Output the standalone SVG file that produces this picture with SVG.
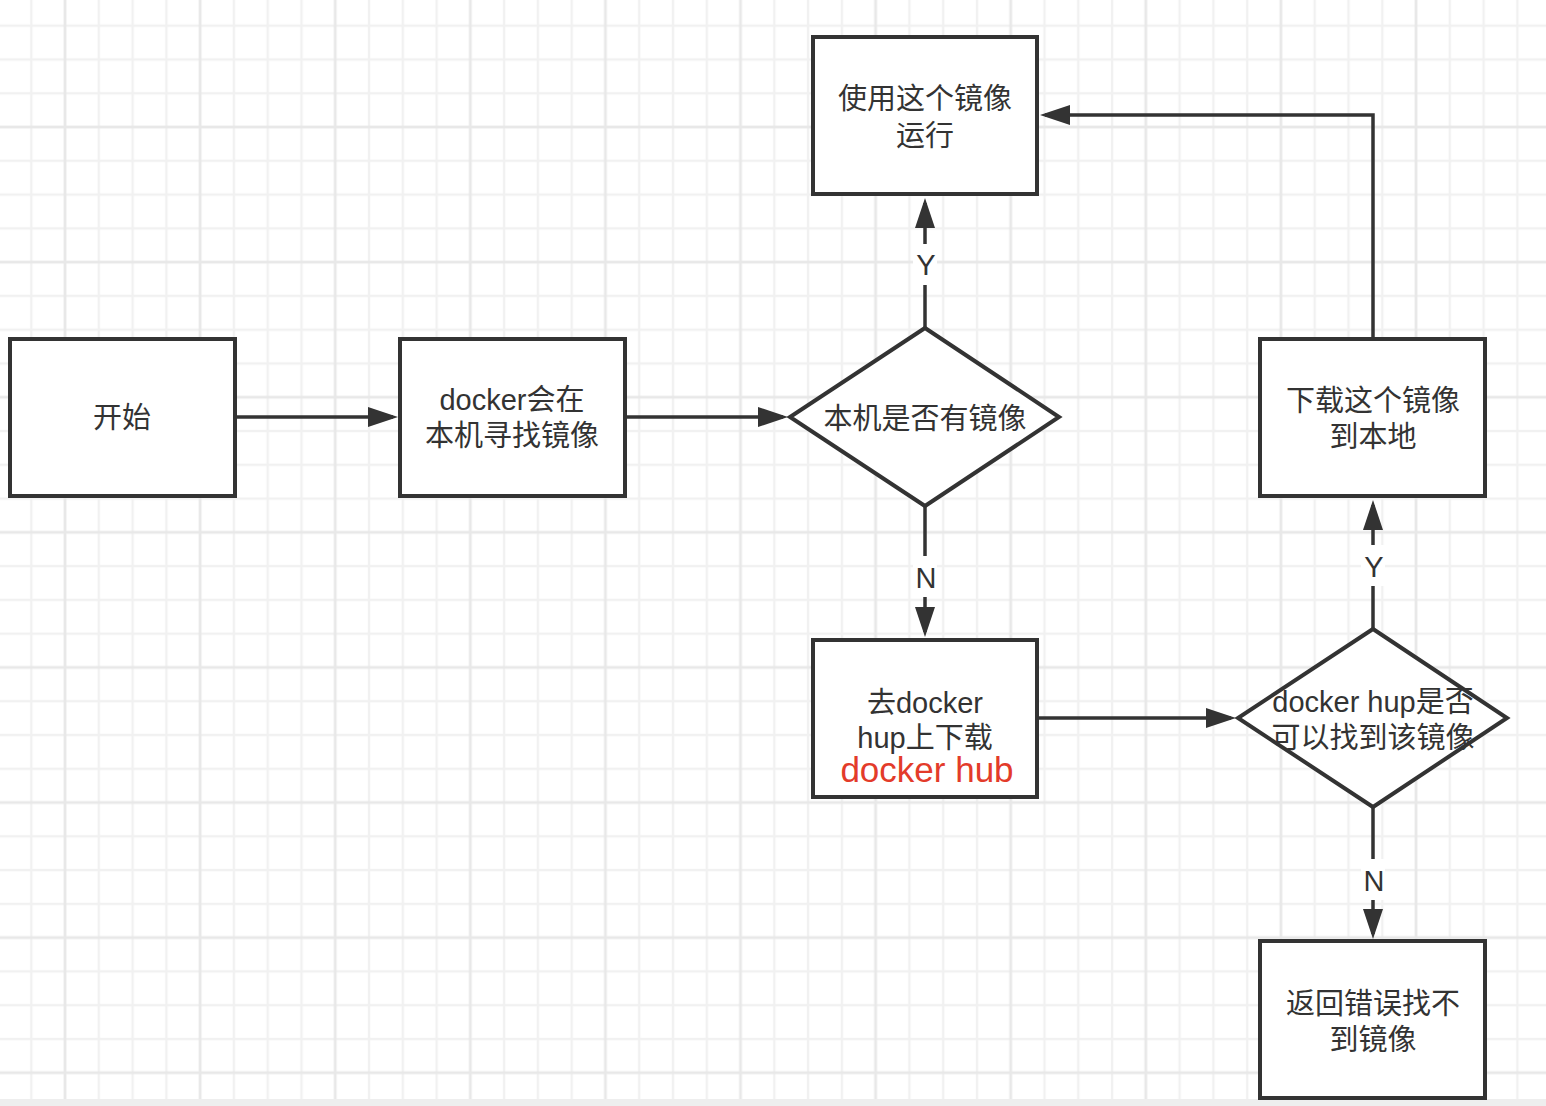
<svg xmlns="http://www.w3.org/2000/svg" width="1546" height="1106" viewBox="0 0 1546 1106">
<style>
.node{fill:#ffffff;stroke:#333333;stroke-width:4;stroke-linejoin:miter}
.t{font-family:"Liberation Sans","Noto Sans CJK SC",sans-serif;font-size:29px;fill:#333333;text-anchor:middle}
.red{font-family:"Liberation Sans","Noto Sans CJK SC",sans-serif;font-size:35px;fill:#e33b2a;text-anchor:middle}
.lbl{font-family:"Liberation Sans","Noto Sans CJK SC",sans-serif;font-size:29px;fill:#333333;text-anchor:middle}
.edge{fill:none;stroke:#333333;stroke-width:3.5}
.lblbg{fill:#ffffff}
</style>
<defs>
<pattern id="grid" patternUnits="userSpaceOnUse" x="48.1" y="110.1" width="135.1" height="135.1">
<rect x="49.5" y="0" width="2.4" height="135.1" fill="#f1f1f1"/>
<rect x="83.3" y="0" width="2.4" height="135.1" fill="#f1f1f1"/>
<rect x="117.1" y="0" width="2.4" height="135.1" fill="#f1f1f1"/>
<rect x="0" y="49.5" width="135.1" height="2.4" fill="#f1f1f1"/>
<rect x="0" y="83.3" width="135.1" height="2.4" fill="#f1f1f1"/>
<rect x="0" y="117.1" width="135.1" height="2.4" fill="#f1f1f1"/>
<rect x="15.5" y="0" width="2.8" height="135.1" fill="#e8e8e8"/>
<rect x="0" y="15.5" width="135.1" height="2.8" fill="#e8e8e8"/>
</pattern>
<marker id="arrow" markerUnits="userSpaceOnUse" markerWidth="31" markerHeight="21" refX="25" refY="10" orient="auto">
<path d="M0,0 L30,10 L0,20 Z" fill="#333333"/>
</marker>
</defs>
<rect x="0" y="0" width="1546" height="1106" fill="#ffffff"/>
<rect x="0" y="0" width="1546" height="1106" fill="url(#grid)"/>
<rect x="0" y="1099" width="1546" height="7" fill="#eeeeee"/>

<g id="connectors">
<line class="edge" x1="237" y1="417" x2="393" y2="417" marker-end="url(#arrow)"/>
<line class="edge" x1="627" y1="417" x2="783" y2="417" marker-end="url(#arrow)"/>
<line class="edge" x1="925" y1="327" x2="925" y2="203" marker-end="url(#arrow)"/>
<line class="edge" x1="925" y1="507" x2="925" y2="632" marker-end="url(#arrow)"/>
<line class="edge" x1="1039" y1="718" x2="1231" y2="718" marker-end="url(#arrow)"/>
<line class="edge" x1="1373" y1="628" x2="1373" y2="505" marker-end="url(#arrow)"/>
<line class="edge" x1="1373" y1="808" x2="1373" y2="934" marker-end="url(#arrow)"/>
<polyline class="edge" points="1373,337 1373,115 1045,115" marker-end="url(#arrow)"/>
<rect class="lblbg" x="913" y="244" width="24" height="41"/>
<text class="lbl" x="926" y="275">Y</text>
<rect class="lblbg" x="913" y="556" width="24" height="41"/>
<text class="lbl" x="926" y="588">N</text>
<rect class="lblbg" x="1361" y="545" width="24" height="41"/>
<text class="lbl" x="1374" y="577">Y</text>
<rect class="lblbg" x="1361" y="859" width="24" height="41"/>
<text class="lbl" x="1374" y="891">N</text>
</g>

<g id="start">
<rect class="node" x="10" y="339" width="225" height="157"/>
<text class="t" x="122" y="428">开始</text>
</g>
<g id="search-local">
<rect class="node" x="400" y="339" width="225" height="157"/>
<text class="t" x="512" y="410">docker会在</text>
<text class="t" x="512" y="446">本机寻找镜像</text>
</g>
<g id="has-local">
<polygon class="node" points="925,328 1059,417 925,506 790,417"/>
<text class="t" x="925" y="429">本机是否有镜像</text>
</g>
<g id="run-image">
<rect class="node" x="813" y="37" width="224" height="157"/>
<text class="t" x="925" y="109">使用这个镜像</text>
<text class="t" x="925" y="146">运行</text>
</g>
<g id="go-hub">
<rect class="node" x="813" y="640" width="224" height="157"/>
<text class="t" x="925" y="713">去docker</text>
<text class="t" x="925" y="748">hup上下载</text>
<text class="red" x="927" y="782">docker hub</text>
</g>
<g id="hub-found">
<polygon class="node" points="1373,629 1507,718 1373,807 1238,718"/>
<text class="t" x="1373" y="712">docker hup是否</text>
<text class="t" x="1373" y="748">可以找到该镜像</text>
</g>
<g id="download">
<rect class="node" x="1260" y="339" width="225" height="157"/>
<text class="t" x="1373" y="411">下载这个镜像</text>
<text class="t" x="1373" y="447">到本地</text>
</g>
<g id="not-found">
<rect class="node" x="1260" y="941" width="225" height="157"/>
<text class="t" x="1373" y="1014">返回错误找不</text>
<text class="t" x="1373" y="1050">到镜像</text>
</g>
</svg>
